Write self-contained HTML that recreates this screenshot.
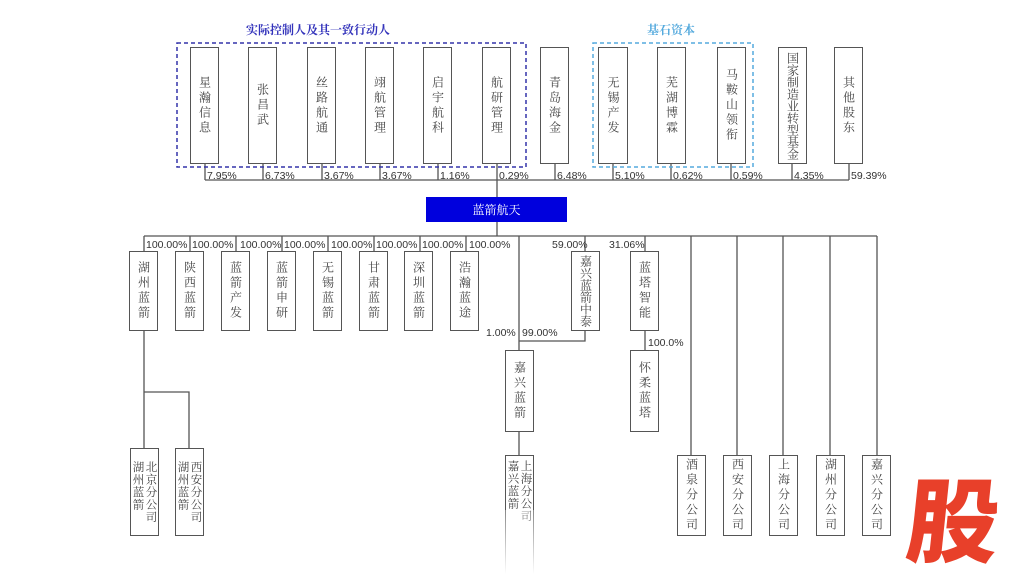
<!DOCTYPE html>
<html><head><meta charset="utf-8"><style>
body{margin:0;width:1024px;height:574px;background:#fff;position:relative;overflow:hidden;font-family:"Liberation Sans",sans-serif}
.b{position:absolute;box-sizing:border-box;border:1.5px solid #555;background:#fff;display:flex;align-items:center;justify-content:center}
.b span{writing-mode:vertical-rl;text-orientation:upright;font-family:"Noto Serif CJK SC","Liberation Serif",serif;font-size:12px;color:#444;letter-spacing:3px;line-height:16px}
.p{position:absolute;font-size:10.5px;color:#333;line-height:12px}
.t{position:absolute;font-family:"Noto Serif CJK SC",serif;font-size:12px;font-weight:bold}
svg{position:absolute;left:0;top:0}
</style></head><body>
<svg width="1024" height="574">
<g stroke="#555" stroke-width="1.3" fill="none">
<path d="M205 164V180M263 164V180M322 164V180M380 164V180M438 164V180M497 164V180M555 164V180M613 164V180M671 164V180M731 164V180M792 164V180M849 164V180M205 180H849"/>
<path d="M497 180V197M497 222V236M144 236H877"/>
<path d="M144 236V251M190 236V251M236 236V251M282 236V251M328 236V251M374 236V251M420 236V251M466 236V251"/>
<path d="M519 236V350M585 236V251M585 330V341H519M645 236V251M645 330V350"/>
<path d="M691 236V455M737 236V455M783 236V455M830 236V455M877 236V455"/>
<path d="M144 330V455M144 392H189V455M519 432V455"/>
</g>
<rect x="177" y="43" width="349" height="124" fill="none" stroke="#3333aa" stroke-width="1.5" stroke-dasharray="4,3"/>
<rect x="593" y="43" width="160" height="124" fill="none" stroke="#55aadd" stroke-width="1.5" stroke-dasharray="4,3"/>
<rect x="426" y="197" width="141" height="25" fill="#0000dd"/>
</svg>
<div class="t" style="left:246px;top:21px;color:#3333bb">实际控制人及其一致行动人</div>
<div class="t" style="left:647px;top:21px;color:#55aadd">基石资本</div>
<div class="t" style="left:426px;top:201px;width:141px;text-align:center;color:#fff;font-weight:normal;font-size:12px">蓝箭航天</div>

<div class="b" style="left:190px;top:47px;width:29px;height:117px"><span>星瀚信息</span></div>
<div class="b" style="left:248px;top:47px;width:29px;height:117px"><span>张昌武</span></div>
<div class="b" style="left:307px;top:47px;width:29px;height:117px"><span>丝路航通</span></div>
<div class="b" style="left:365px;top:47px;width:29px;height:117px"><span>翊航管理</span></div>
<div class="b" style="left:423px;top:47px;width:29px;height:117px"><span>启宇航科</span></div>
<div class="b" style="left:482px;top:47px;width:29px;height:117px"><span>航研管理</span></div>
<div class="b" style="left:540px;top:47px;width:29px;height:117px"><span>青岛海金</span></div>
<div class="b" style="left:598px;top:47px;width:30px;height:117px"><span>无锡产发</span></div>
<div class="b" style="left:657px;top:47px;width:29px;height:117px"><span>芜湖博霖</span></div>
<div class="b" style="left:717px;top:47px;width:29px;height:117px"><span>马鞍山领衔</span></div>
<div class="b" style="left:778px;top:47px;width:29px;height:117px"><span style="letter-spacing:0;line-height:14px">国家制造业转型基金</span></div>
<div class="b" style="left:834px;top:47px;width:29px;height:117px"><span>其他股东</span></div>

<div class="p" style="left:207px;top:170px">7.95%</div>
<div class="p" style="left:265px;top:170px">6.73%</div>
<div class="p" style="left:324px;top:170px">3.67%</div>
<div class="p" style="left:382px;top:170px">3.67%</div>
<div class="p" style="left:440px;top:170px">1.16%</div>
<div class="p" style="left:499px;top:170px">0.29%</div>
<div class="p" style="left:557px;top:170px">6.48%</div>
<div class="p" style="left:615px;top:170px">5.10%</div>
<div class="p" style="left:673px;top:170px">0.62%</div>
<div class="p" style="left:733px;top:170px">0.59%</div>
<div class="p" style="left:794px;top:170px">4.35%</div>
<div class="p" style="left:851px;top:170px">59.39%</div>

<div class="p" style="left:146px;top:239px">100.00%</div>
<div class="p" style="left:192px;top:239px">100.00%</div>
<div class="p" style="left:240px;top:239px">100.00%</div>
<div class="p" style="left:284px;top:239px">100.00%</div>
<div class="p" style="left:331px;top:239px">100.00%</div>
<div class="p" style="left:376px;top:239px">100.00%</div>
<div class="p" style="left:422px;top:239px">100.00%</div>
<div class="p" style="left:469px;top:239px">100.00%</div>
<div class="p" style="left:552px;top:239px">59.00%</div>
<div class="p" style="left:609px;top:239px">31.06%</div>
<div class="p" style="left:486px;top:327px">1.00%</div>
<div class="p" style="left:522px;top:327px">99.00%</div>
<div class="p" style="left:648px;top:337px">100.0%</div>

<div class="b" style="left:129px;top:251px;width:29px;height:80px"><span>湖州蓝箭</span></div>
<div class="b" style="left:175px;top:251px;width:29px;height:80px"><span>陕西蓝箭</span></div>
<div class="b" style="left:221px;top:251px;width:29px;height:80px"><span>蓝箭产发</span></div>
<div class="b" style="left:267px;top:251px;width:29px;height:80px"><span>蓝箭申研</span></div>
<div class="b" style="left:313px;top:251px;width:29px;height:80px"><span>无锡蓝箭</span></div>
<div class="b" style="left:359px;top:251px;width:29px;height:80px"><span>甘肃蓝箭</span></div>
<div class="b" style="left:404px;top:251px;width:29px;height:80px"><span>深圳蓝箭</span></div>
<div class="b" style="left:450px;top:251px;width:29px;height:80px"><span>浩瀚蓝途</span></div>
<div class="b" style="left:571px;top:251px;width:29px;height:80px"><span style="letter-spacing:0;line-height:14px">嘉兴蓝箭中泰</span></div>
<div class="b" style="left:630px;top:251px;width:29px;height:80px"><span>蓝塔智能</span></div>
<div class="b" style="left:505px;top:350px;width:29px;height:82px"><span>嘉兴蓝箭</span></div>
<div class="b" style="left:630px;top:350px;width:29px;height:82px"><span>怀柔蓝塔</span></div>

<div class="b" style="left:130px;top:448px;width:29px;height:88px"><span style="letter-spacing:1px;line-height:13px;font-size:11.5px">北京分公司<br>湖州蓝箭</span></div>
<div class="b" style="left:175px;top:448px;width:29px;height:88px"><span style="letter-spacing:1px;line-height:13px;font-size:11.5px">西安分公司<br>湖州蓝箭</span></div>
<div class="b" style="left:505px;top:455px;width:29px;height:119px;border-bottom:none;align-items:flex-start;padding-top:4px"><span style="letter-spacing:1px;line-height:13px;font-size:11.5px">上海分公司<br>嘉兴蓝箭</span></div>
<div style="position:absolute;left:503px;top:510px;width:34px;height:64px;background:linear-gradient(rgba(255,255,255,0.3),#fff)"></div>

<div class="b" style="left:677px;top:455px;width:29px;height:81px"><span>酒泉分公司</span></div>
<div class="b" style="left:723px;top:455px;width:29px;height:81px"><span>西安分公司</span></div>
<div class="b" style="left:769px;top:455px;width:29px;height:81px"><span>上海分公司</span></div>
<div class="b" style="left:816px;top:455px;width:29px;height:81px"><span>湖州分公司</span></div>
<div class="b" style="left:862px;top:455px;width:29px;height:81px"><span>嘉兴分公司</span></div>

<div style="position:absolute;left:908px;top:468px;font-family:'Noto Sans CJK SC',sans-serif;font-weight:900;font-size:92px;line-height:96px;color:#e8402a;transform:skewX(-6deg)">股</div>
</body></html>
